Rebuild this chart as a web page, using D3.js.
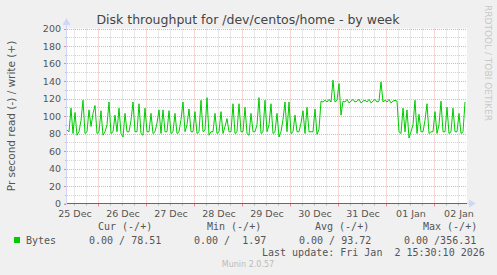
<!DOCTYPE html>
<html>
<head>
<meta charset="utf-8">
<script src="https://cdn.jsdelivr.net/npm/d3@7"></script>
<style>
  body { margin: 0; background: #F0F0F0; }
  svg { display: block; }
  text { font-family: "DejaVu Sans", sans-serif; fill: #555; }
  .mono { font-family: "DejaVu Sans Mono", monospace; font-size: 10px; white-space: pre; }
</style>
</head>
<body>
<div id="chart"></div>
<script>
/* chart data (write bytes per second, one value per hour) */
const startTime = Date.UTC(2025, 11, 25, 8, 30);
const endTime = Date.UTC(2026, 0, 2, 16, 30);
const writeValues = [
  84, 82, 109, 80, 104, 78, 82, 95, 118, 80, 82, 107, 88, 103, 112, 80, 82, 106, 78, 82,
  90, 116, 80, 82, 101, 82, 109, 80, 76, 103, 82, 82, 95, 116, 82, 82, 114, 80, 78, 109,
  82, 82, 103, 80, 82, 92, 107, 80, 107, 82, 82, 106, 80, 82, 103, 80, 82, 96, 116, 82,
  90, 108, 82, 82, 105, 80, 82, 118, 82, 84, 121, 78, 82, 82, 103, 80, 82, 105, 80, 88,
  97, 82, 82, 114, 80, 82, 114, 82, 82, 110, 80, 78, 103, 82, 82, 90, 121, 80, 82, 118,
  82, 90, 114, 80, 82, 103, 76, 82, 96, 116, 82, 116, 80, 82, 101, 82, 82, 92, 106, 80,
  110, 82, 82, 82, 108, 79, 85, 117, 116, 118, 116, 119, 116, 141, 116, 118, 137, 101, 117, 116,
  119, 115, 117, 119, 116, 117, 119, 115, 117, 118, 116, 119, 115, 117, 119, 116, 117, 139, 116, 118,
  116, 119, 115, 117, 118, 117, 82, 80, 109, 82, 107, 75, 82, 90, 118, 80, 102, 82, 82, 95,
  114, 80, 82, 82, 105, 80, 90, 117, 82, 82, 110, 80, 82, 109, 82, 82, 103, 80, 82, 116
];
const yTicks = [0, 20, 40, 60, 80, 100, 120, 140, 160, 180, 200];
const legendHeads = ["Cur (-/+)", "Min (-/+)", "Avg (-/+)", "Max (-/+)"];
const legendVals = ["0.00 / 78.51", "0.00 /  1.97", "0.00 / 93.72", "0.00 /356.31"];

const W = 497, H = 275;
const plot = {left: 67, right: 467, top: 28.5, bottom: 203.5};

const svg = d3.select("#chart").append("svg")
  .attr("width", W).attr("height", H);

svg.append("rect").attr("width", W).attr("height", H).attr("fill", "#F0F0F0");
svg.append("rect")
  .attr("x", plot.left).attr("y", plot.top)
  .attr("width", plot.right - plot.left).attr("height", plot.bottom - plot.top)
  .attr("fill", "#FFFFFF");

const x = d3.scaleUtc().domain([startTime, endTime]).range([plot.left, plot.right]);
const y = d3.scaleLinear().domain([0, 200]).range([plot.bottom, plot.top]);
const px = v => Math.round(v) + 0.5;

// grid: minor every 10 / 6h in gray, major every 20 / day in red
const grid = svg.append("g").attr("stroke-dasharray", "1,1").attr("stroke-width", 1);
d3.range(10, 201, 10).forEach(function(v) {
  grid.append("line")
    .attr("x1", plot.left).attr("x2", plot.right)
    .attr("y1", px(y(v))).attr("y2", px(y(v)))
    .attr("stroke", v % 20 == 0 ? "#eab0b0" : "#d4d4d4");
});
const hours6 = d3.utcHour.every(6).range(new Date(startTime), new Date(endTime));
hours6.forEach(function(t) {
  const major = t.getUTCHours() == 0;
  grid.append("line")
    .attr("x1", px(x(t))).attr("x2", px(x(t)))
    .attr("y1", plot.top).attr("y2", plot.bottom)
    .attr("stroke", major ? "#eab0b0" : "#d4d4d4");
  svg.append("line")
    .attr("x1", px(x(t))).attr("x2", px(x(t)))
    .attr("y1", plot.bottom).attr("y2", plot.bottom + (major ? 3 : 2))
    .attr("stroke", major ? "#e09090" : "#bbbbbb");
});

// y tick marks and labels
d3.range(0, 201, 10).forEach(function(v) {
  svg.append("line")
    .attr("x1", plot.left - (v % 20 == 0 ? 3 : 2)).attr("x2", plot.left)
    .attr("y1", px(y(v))).attr("y2", px(y(v)))
    .attr("stroke", v % 20 == 0 ? "#e09090" : "#bbbbbb");
});
svg.append("g").selectAll("text").data(yTicks).enter().append("text")
  .attr("x", 61).attr("y", d => y(d) + 3.5)
  .attr("text-anchor", "end").attr("font-size", "9.5px")
  .text(d => d);

// day labels at noon
const days = d3.utcDay.range(new Date(Date.UTC(2025, 11, 25)), new Date(endTime));
const fmt = d3.utcFormat("%d %b");
svg.append("g").selectAll("text").data(days).enter().append("text")
  .attr("x", d => x(d3.utcHour.offset(d, 12)) + 1)
  .attr("y", 216.5)
  .attr("text-anchor", "middle").attr("font-size", "9.5px")
  .text(d => fmt(d));

// axes with arrows
svg.append("line")
  .attr("x1", plot.left - 0.5).attr("x2", plot.left - 0.5)
  .attr("y1", plot.bottom + 2).attr("y2", 22)
  .attr("stroke", "#CFD6F8");
svg.append("path").attr("d", "M62.5,25 L70.5,25 L66.5,18 Z").attr("fill", "#CFD6F8");
svg.append("line")
  .attr("x1", 64).attr("x2", 471)
  .attr("y1", plot.bottom).attr("y2", plot.bottom)
  .attr("stroke", "#CFD6F8");
svg.append("path").attr("d", "M469,199.5 L469,207.5 L476,203.5 Z").attr("fill", "#CFD6F8");
svg.append("line")
  .attr("x1", plot.left).attr("x2", plot.right)
  .attr("y1", plot.bottom).attr("y2", plot.bottom)
  .attr("stroke", "#666677");

// write series
const line = d3.line()
  .x((d, i) => x(startTime + i * 3600 * 1000))
  .y(d => y(d));
svg.append("path")
  .datum(writeValues)
  .attr("d", line)
  .attr("fill", "none")
  .attr("stroke", "#00CC00")
  .attr("stroke-width", 1);

// titles
svg.append("text")
  .attr("x", 248).attr("y", 23.5)
  .attr("text-anchor", "middle").attr("font-size", "12.5px").style("fill", "#444")
  .text("Disk throughput for /dev/centos/home - by week");
svg.append("text")
  .attr("transform", "translate(15,116) rotate(-90)")
  .attr("text-anchor", "middle").attr("font-size", "10.5px")
  .text("Pr second read (-) / write (+)");
svg.append("text")
  .attr("transform", "translate(485,5) rotate(90)")
  .attr("font-size", "9px").style("fill", "#c8c8c8")
  .text("RRDTOOL / TOBI OETIKER");

// legend
const headX = [98, 207, 315, 423];
const valX = [89, 194, 299, 404];
legendHeads.forEach(function(t, i) {
  svg.append("text").attr("class", "mono").attr("x", headX[i]).attr("y", 230).text(t);
});
svg.append("rect").attr("x", 14).attr("y", 237).attr("width", 6).attr("height", 6).attr("fill", "#00CC00");
svg.append("text").attr("class", "mono").attr("x", 26).attr("y", 243.5).text("Bytes");
legendVals.forEach(function(t, i) {
  svg.append("text").attr("class", "mono").attr("x", valX[i]).attr("y", 243.5).text(t);
});
svg.append("text").attr("class", "mono").attr("x", 262).attr("y", 255.5)
  .text("Last update: Fri Jan  2 15:30:10 2026");
svg.append("text")
  .attr("x", 248).attr("y", 267).attr("text-anchor", "middle")
  .attr("font-size", "8px").style("fill", "#bbbbbb")
  .text("Munin 2.0.57");
</script>
</body>
</html>
